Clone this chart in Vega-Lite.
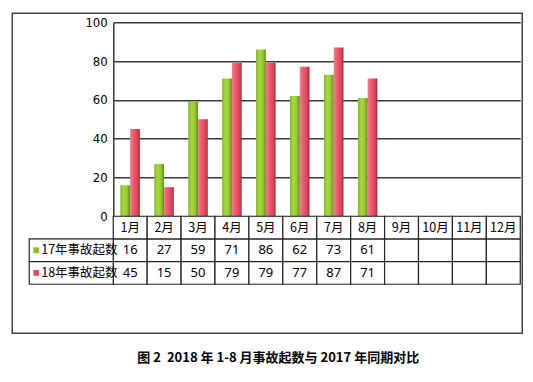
{
  "$schema": "https://vega.github.io/schema/vega-lite/v6.json",
  "padding": {"left": 11.25, "top": 12.25, "right": 10.25, "bottom": 14},
  "background": "white",
  "bounds": "flush",
  "spacing": 0,
  "title": {
    "text": "图 2\u00a0\u00a02018 年 1-8 月事故起数与 2017 年同期对比",
    "orient": "bottom",
    "anchor": "middle",
    "frame": "bounds",
    "dx": 11,
    "offset": 18,
    "font": "Noto Sans CJK SC",
    "fontSize": 13,
    "fontWeight": "bold",
    "color": "#000000"
  },
  "config": {"view": {"stroke": null}},
  "datasets": {
    "d": [
      {"month": "1月", "series": "17年事故起数", "value": 16},
      {"month": "2月", "series": "17年事故起数", "value": 27},
      {"month": "3月", "series": "17年事故起数", "value": 59},
      {"month": "4月", "series": "17年事故起数", "value": 71},
      {"month": "5月", "series": "17年事故起数", "value": 86},
      {"month": "6月", "series": "17年事故起数", "value": 62},
      {"month": "7月", "series": "17年事故起数", "value": 73},
      {"month": "8月", "series": "17年事故起数", "value": 61},
      {"month": "9月", "series": "17年事故起数", "value": null},
      {"month": "10月", "series": "17年事故起数", "value": null},
      {"month": "11月", "series": "17年事故起数", "value": null},
      {"month": "12月", "series": "17年事故起数", "value": null},
      {"month": "1月", "series": "18年事故起数", "value": 45},
      {"month": "2月", "series": "18年事故起数", "value": 15},
      {"month": "3月", "series": "18年事故起数", "value": 50},
      {"month": "4月", "series": "18年事故起数", "value": 79},
      {"month": "5月", "series": "18年事故起数", "value": 79},
      {"month": "6月", "series": "18年事故起数", "value": 77},
      {"month": "7月", "series": "18年事故起数", "value": 87},
      {"month": "8月", "series": "18年事故起数", "value": 71},
      {"month": "9月", "series": "18年事故起数", "value": null},
      {"month": "10月", "series": "18年事故起数", "value": null},
      {"month": "11月", "series": "18年事故起数", "value": null},
      {"month": "12月", "series": "18年事故起数", "value": null}
    ]
  },
  "vconcat": [
    {
      "width": 407,
      "height": 194,
      "data": {"name": "d"},
      "layer": [
        {
          "data": {"values": [{}]},
          "mark": {"type": "rect", "fill": "transparent", "stroke": "#444444", "strokeWidth": 1.5, "clip": false},
          "encoding": {
            "x": {"datum": -2.978, "type": "quantitative", "scale": {"domain": [0, 12], "nice": false, "zero": false}, "axis": null},
            "x2": {"datum": 12.059},
            "y": {"datum": 104.64, "type": "quantitative", "scale": {"domain": [0, 100], "nice": false, "zero": false}, "axis": null},
            "y2": {"datum": -60.31}
          }
        },
        {
          "encoding": {
            "x": {
              "field": "month", "type": "nominal", "sort": null,
              "scale": {"domain": ["1月","2月","3月","4月","5月","6月","7月","8月","9月","10月","11月","12月"], "paddingInner": 0.425, "paddingOuter": 0.21},
              "axis": null
            },
            "xOffset": {
              "field": "series", "type": "nominal",
              "scale": {"domain": ["17年事故起数", "18年事故起数"], "paddingInner": 0, "paddingOuter": 0}
            },
            "y": {
              "field": "value", "type": "quantitative",
              "scale": {"domain": [0, 100], "nice": false},
              "axis": {
                "values": [0, 20, 40, 60, 80, 100],
                "title": null,
                "grid": true,
                "gridColor": "#3a3a3a",
                "gridWidth": 1.5,
                "gridOpacity": 1,
                "domain": true,
                "domainColor": "#3a3a3a",
                "domainWidth": 1.5,
                "ticks": false,
                "labelPadding": 6,
                "labelFont": "Liberation Sans Narrow, DejaVu Sans Condensed, Noto Sans, sans-serif",
                "labelFontSize": 13,
                "labelColor": "#000000"
              }
            }
          },
          "layer": [
            {
              "transform": [{"filter": "datum.series === '17年事故起数' && isValid(datum.value)"}],
              "mark": {
                "type": "bar",
                "color": {
                  "gradient": "linear", "x1": 0, "x2": 1, "y1": 0, "y2": 0,
                  "stops": [
                    {"offset": 0, "color": "#86B524"},
                    {"offset": 0.35, "color": "#A8D842"},
                    {"offset": 0.7, "color": "#98C634"},
                    {"offset": 1, "color": "#5F8A16"}
                  ]
                }
              }
            },
            {
              "transform": [{"filter": "datum.series === '18年事故起数' && isValid(datum.value)"}],
              "mark": {
                "type": "bar",
                "color": {
                  "gradient": "linear", "x1": 0, "x2": 1, "y1": 0, "y2": 0,
                  "stops": [
                    {"offset": 0, "color": "#F2808F"},
                    {"offset": 0.35, "color": "#EE5A70"},
                    {"offset": 0.75, "color": "#DA4659"},
                    {"offset": 1, "color": "#9E2A3C"}
                  ]
                }
              }
            }
          ]
        }
      ],
      "resolve": {"scale": {"x": "independent", "y": "independent"}}
    },
    {
      "width": 407,
      "height": 68,
      "data": {"name": "d"},
      "layer": [
        {
          "layer": [
            {
              "mark": {"type": "rect", "fill": "white", "stroke": "#222222", "strokeWidth": 1.2},
              "encoding": {
                "x": {"field": "month", "type": "nominal", "sort": null, "scale": {"domain": ["1月","2月","3月","4月","5月","6月","7月","8月","9月","10月","11月","12月"], "paddingInner": 0, "paddingOuter": 0}, "axis": null},
                "y": {"field": "series", "type": "nominal", "scale": {"domain": ["月份", "17年事故起数", "18年事故起数"], "paddingInner": 0, "paddingOuter": 0}, "axis": null}
              }
            },
            {
              "transform": [{"filter": "datum.series === '17年事故起数'"}],
              "mark": {"type": "rect", "fill": "white", "stroke": "#222222", "strokeWidth": 1.2},
              "encoding": {
                "x": {"field": "month", "type": "nominal", "sort": null, "axis": null},
                "y": {"datum": "月份", "type": "nominal"}
              }
            },
            {
              "transform": [{"filter": "datum.series === '17年事故起数'"}],
              "mark": {"type": "text", "font": "Noto Sans CJK SC, sans-serif", "fontSize": 12.5, "color": "#000000", "baseline": "middle"},
              "encoding": {
                "x": {"field": "month", "type": "nominal", "sort": null, "axis": null},
                "y": {"datum": "月份", "type": "nominal"},
                "text": {"field": "month", "type": "nominal"}
              }
            },
            {
              "transform": [{"filter": "isValid(datum.value)"}],
              "mark": {"type": "text", "font": "Noto Sans, sans-serif", "fontSize": 13, "color": "#000000", "baseline": "middle"},
              "encoding": {
                "x": {"field": "month", "type": "nominal", "sort": null, "axis": null},
                "y": {"field": "series", "type": "nominal"},
                "text": {"field": "value", "type": "quantitative"}
              }
            }
          ]
        },
        {
          "transform": [{"filter": "datum.month === '1月'"}],
          "layer": [
            {
              "mark": {"type": "rect", "fill": "white", "stroke": "#222222", "strokeWidth": 1.2, "clip": false},
              "encoding": {
                "x": {"datum": -2.477, "type": "quantitative", "scale": {"domain": [0, 12], "nice": false, "zero": false}, "axis": null},
                "x2": {"datum": 0},
                "y": {"field": "series", "type": "nominal"}
              }
            },
            {
              "mark": {"type": "point", "shape": "square", "filled": true, "size": 34, "opacity": 1, "clip": false},
              "encoding": {
                "x": {"datum": -2.27, "type": "quantitative"},
                "y": {"field": "series", "type": "nominal"},
                "color": {"field": "series", "type": "nominal", "scale": {"domain": ["17年事故起数", "18年事故起数"], "range": ["#8FC22A", "#E34A60"]}, "legend": null}
              }
            },
            {
              "mark": {"type": "text", "align": "left", "baseline": "middle", "font": "Noto Sans CJK SC, sans-serif", "fontSize": 12.5, "color": "#000000", "clip": false},
              "encoding": {
                "x": {"datum": -2.123, "type": "quantitative"},
                "y": {"field": "series", "type": "nominal"},
                "text": {"field": "series", "type": "nominal"}
              }
            }
          ]
        }
      ],
      "resolve": {"scale": {"x": "independent"}}
    }
  ]
}
